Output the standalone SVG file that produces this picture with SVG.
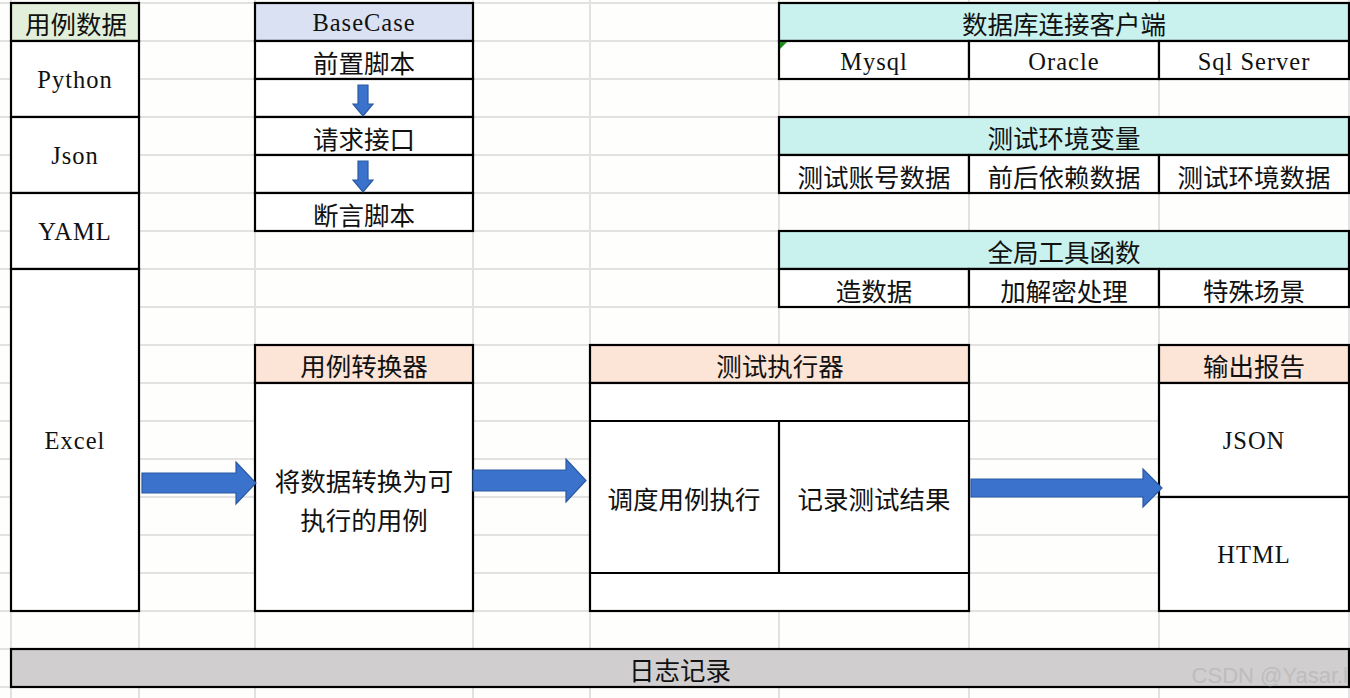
<svg xmlns="http://www.w3.org/2000/svg" width="1350" height="698" viewBox="0 0 1350 698">
<style>
.grid line{stroke:#e2e2e2;stroke-width:2}
.c{stroke:#000;stroke-width:2.2;fill:#fff}
.l{stroke:#000;stroke-width:2.2}
.cn{font-family:"Noto Sans CJK SC",sans-serif;font-size:25.5px;fill:#111;text-anchor:middle;dominant-baseline:central}
.en{font-family:"Liberation Serif",serif;font-size:24.5px;fill:#111;text-anchor:middle;dominant-baseline:central;letter-spacing:1px}
.arrow{fill:#3a72cc;stroke:#2b5aa3;stroke-width:1.2}
.green{fill:#e2efda}
.blue{fill:#d9e1f2}
.cyan{fill:#c9f1ee}
.orange{fill:#fce4d6}
.gray{fill:#d0cece}
</style>
<rect width="1350" height="698" fill="#fefefc"/>
<g class="grid">
<line x1="0" y1="3" x2="1350" y2="3"/><line x1="0" y1="41" x2="1350" y2="41"/><line x1="0" y1="79" x2="1350" y2="79"/><line x1="0" y1="117" x2="1350" y2="117"/><line x1="0" y1="155" x2="1350" y2="155"/><line x1="0" y1="193" x2="1350" y2="193"/><line x1="0" y1="231" x2="1350" y2="231"/><line x1="0" y1="269" x2="1350" y2="269"/><line x1="0" y1="307" x2="1350" y2="307"/><line x1="0" y1="345" x2="1350" y2="345"/><line x1="0" y1="383" x2="1350" y2="383"/><line x1="0" y1="421" x2="1350" y2="421"/><line x1="0" y1="459" x2="1350" y2="459"/><line x1="0" y1="497" x2="1350" y2="497"/><line x1="0" y1="535" x2="1350" y2="535"/><line x1="0" y1="573" x2="1350" y2="573"/><line x1="0" y1="611" x2="1350" y2="611"/><line x1="0" y1="649" x2="1350" y2="649"/><line x1="0" y1="687" x2="1350" y2="687"/>
<line x1="11" y1="0" x2="11" y2="698"/><line x1="139" y1="0" x2="139" y2="698"/><line x1="255" y1="0" x2="255" y2="698"/><line x1="473" y1="0" x2="473" y2="698"/><line x1="590" y1="0" x2="590" y2="698"/><line x1="779" y1="0" x2="779" y2="698"/><line x1="969" y1="0" x2="969" y2="698"/><line x1="1159" y1="0" x2="1159" y2="698"/><line x1="1349" y1="0" x2="1349" y2="698"/>
</g>

<g id="usecase-data">
<rect class="c green" x="11" y="3" width="128" height="38"/>
<rect class="c" x="11" y="41" width="128" height="76"/>
<rect class="c" x="11" y="117" width="128" height="76"/>
<rect class="c" x="11" y="193" width="128" height="76"/>
<rect class="c" x="11" y="269" width="128" height="342"/>
<text class="cn" x="76" y="22">用例数据</text>
<text class="en" x="75" y="79">Python</text>
<text class="en" x="75" y="155">Json</text>
<text class="en" x="75" y="231">YAML</text>
<text class="en" x="75" y="440">Excel</text>
</g>

<g id="basecase">
<rect class="c blue" x="255" y="3" width="218" height="38"/>
<rect class="c" x="255" y="41" width="218" height="38"/>
<rect class="c" x="255" y="79" width="218" height="38"/>
<rect class="c" x="255" y="117" width="218" height="38"/>
<rect class="c" x="255" y="155" width="218" height="38"/>
<rect class="c" x="255" y="193" width="218" height="38"/>
<text class="en" x="364" y="22">BaseCase</text>
<text class="cn" x="364" y="61">前置脚本</text>
<text class="cn" x="364" y="137">请求接口</text>
<text class="cn" x="364" y="213">断言脚本</text>
<polygon class="arrow" points="358,85 368,85 368,104 373,104 363,116 353,104 358,104"/>
<polygon class="arrow" points="358,161 368,161 368,180 373,180 363,192 353,180 358,180"/>
</g>

<g id="db-client">
<rect class="c cyan" x="779" y="3" width="570" height="38"/>
<rect class="c" x="779" y="41" width="190" height="38"/>
<rect class="c" x="969" y="41" width="190" height="38"/>
<rect class="c" x="1159" y="41" width="190" height="38"/>
<polygon points="780,42 787,42 780,49" fill="#1b8a1b"/>
<text class="cn" x="1064" y="22">数据库连接客户端</text>
<text class="en" x="874" y="61">Mysql</text>
<text class="en" x="1064" y="61">Oracle</text>
<text class="en" x="1254" y="61">Sql Server</text>
</g>

<g id="env-vars">
<rect class="c cyan" x="779" y="117" width="570" height="38"/>
<rect class="c" x="779" y="155" width="190" height="38"/>
<rect class="c" x="969" y="155" width="190" height="38"/>
<rect class="c" x="1159" y="155" width="190" height="38"/>
<text class="cn" x="1064" y="136">测试环境变量</text>
<text class="cn" x="874" y="175">测试账号数据</text>
<text class="cn" x="1064" y="175">前后依赖数据</text>
<text class="cn" x="1254" y="175">测试环境数据</text>
</g>

<g id="global-tools">
<rect class="c cyan" x="779" y="231" width="570" height="38"/>
<rect class="c" x="779" y="269" width="190" height="38"/>
<rect class="c" x="969" y="269" width="190" height="38"/>
<rect class="c" x="1159" y="269" width="190" height="38"/>
<text class="cn" x="1064" y="250">全局工具函数</text>
<text class="cn" x="874" y="289">造数据</text>
<text class="cn" x="1064" y="289">加解密处理</text>
<text class="cn" x="1254" y="289">特殊场景</text>
</g>

<g id="converter">
<rect class="c orange" x="255" y="345" width="218" height="38"/>
<rect class="c" x="255" y="383" width="218" height="228"/>
<text class="cn" x="364" y="364">用例转换器</text>
<text class="cn" x="364" y="479">将数据转换为可</text>
<text class="cn" x="364" y="518">执行的用例</text>
</g>

<g id="executor">
<rect class="c orange" x="590" y="345" width="379" height="38"/>
<rect class="c" x="590" y="383" width="379" height="228"/>
<line class="l" x1="590" y1="421" x2="969" y2="421"/>
<line class="l" x1="590" y1="573" x2="969" y2="573"/>
<line class="l" x1="779" y1="421" x2="779" y2="573"/>
<text class="cn" x="780" y="364">测试执行器</text>
<text class="cn" x="684" y="497">调度用例执行</text>
<text class="cn" x="874" y="497">记录测试结果</text>
</g>

<g id="report">
<rect class="c orange" x="1159" y="345" width="190" height="38"/>
<rect class="c" x="1159" y="383" width="190" height="114"/>
<rect class="c" x="1159" y="497" width="190" height="114"/>
<text class="cn" x="1254" y="364">输出报告</text>
<text class="en" x="1254" y="440">JSON</text>
<text class="en" x="1254" y="554">HTML</text>
</g>

<g id="log">
<rect class="c gray" x="11" y="649" width="1338" height="38"/>
<text class="cn" x="680" y="668">日志记录</text>
</g>

<g id="connectors">
<polygon class="arrow" points="142,473 236,473 236,462 256,483 236,504 236,493 142,493"/>
<polygon class="arrow" points="473,470 566,470 566,459 586,480.5 566,502 566,491 473,491"/>
<polygon class="arrow" points="971,479 1143,479 1143,469 1162,488 1143,507 1143,497 971,497"/>
</g>

<text x="1348" y="675" font-family="Liberation Sans, sans-serif" font-size="22" fill="#bdbdbd" text-anchor="end" dominant-baseline="central">CSDN @Yasar.l</text>
</svg>
